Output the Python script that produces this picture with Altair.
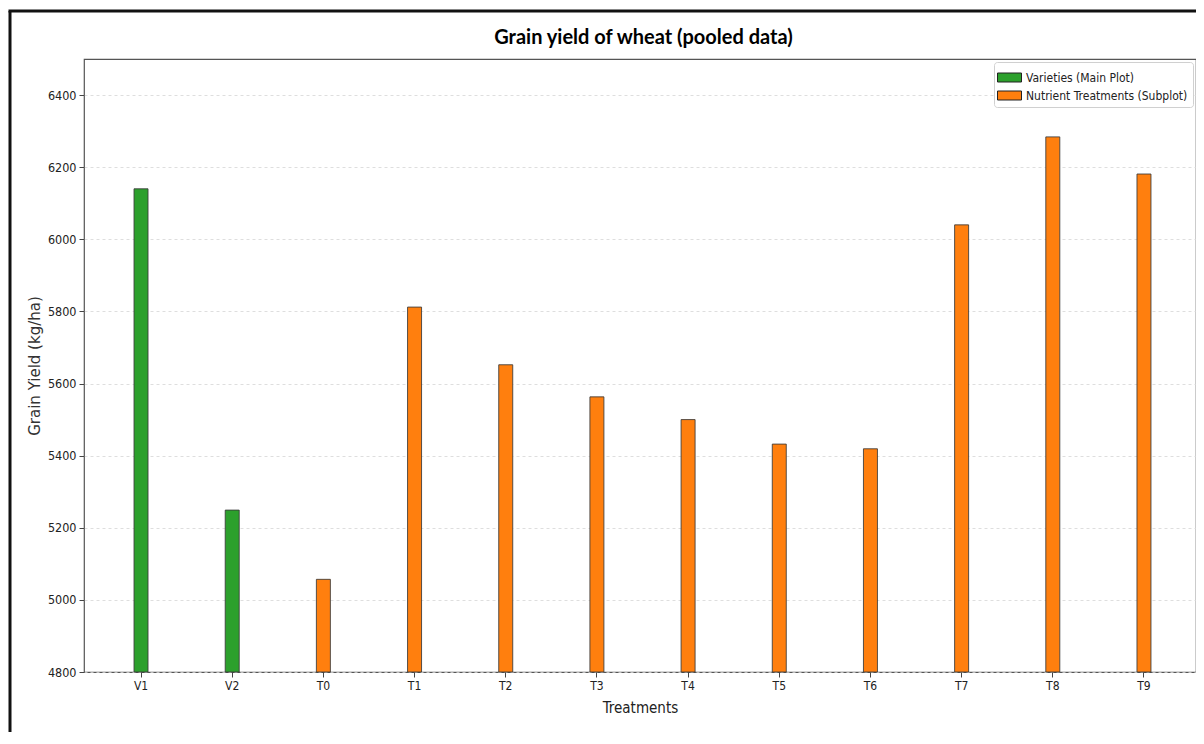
import altair as alt
import pandas as pd

categories = ["V1", "V2", "T0", "T1", "T2", "T3", "T4", "T5", "T6", "T7", "T8", "T9"]
yields = [6140, 5249, 5057, 5812, 5652, 5563, 5500, 5432, 5419, 6040, 6284, 6181]
groups = ["Varieties (Main Plot)"] * 2 + ["Nutrient Treatments (Subplot)"] * 10
group_names = ["Varieties (Main Plot)", "Nutrient Treatments (Subplot)"]
group_colors = ["#2ca02c", "#ff7f0e"]
y_ticks = [4800, 5000, 5200, 5400, 5600, 5800, 6000, 6200, 6400]
title_text = "Grain yield of wheat (pooled data)"

df = pd.DataFrame({"Treatment": categories, "Yield": yields, "Group": groups})

COND = "DejaVu Sans Condensed, Liberation Sans Narrow, DejaVu Sans"

bars = alt.Chart(df).mark_bar(
    size=14, stroke="#3a3a3a", strokeWidth=1, strokeOpacity=0.85
).encode(
    x=alt.X("Treatment:N", sort=categories, title="Treatments",
            scale=alt.Scale(paddingInner=0, paddingOuter=0.098, align=0.64),
            axis=alt.Axis(labelAngle=0, grid=False, labelFont=COND, labelFontSize=12,
                          labelColor="#222", tickSize=5, tickColor="#444",
                          domain=False, labelPadding=3,
                          titleFont=COND, titleFontSize=15, titleFontWeight="normal",
                          titleColor="#222", titlePadding=9)),
    y=alt.Y("Yield:Q", title="Grain Yield (kg/ha)",
            scale=alt.Scale(domain=[4800, 6500], nice=False, zero=False),
            axis=alt.Axis(values=y_ticks, format="d", grid=True, gridDash=[3, 3],
                          gridColor="#d6d6d6", gridWidth=0.8, labelFont=COND,
                          labelFontSize=12.5, labelColor="#222", tickSize=5,
                          tickColor="#444", domain=False, labelPadding=3,
                          titleFont="DejaVu Sans", titleFontSize=15,
                          titleFontWeight="normal", titleColor="#333", titlePadding=5)),
    y2=alt.datum(4800),
    color=alt.Color("Group:N", scale=alt.Scale(domain=group_names, range=group_colors),
                    legend=alt.Legend(title=None, orient="top-right", offset=3,
                                      symbolType="M-1.2,-0.45H1.2V0.45H-1.2Z",
                                      symbolSize=400, symbolStrokeColor="#222",
                                      symbolStrokeWidth=1, symbolOpacity=1,
                                      labelFont=COND, labelFontSize=12, labelColor="#222",
                                      labelLimit=400, labelOffset=6, rowPadding=1,
                                      padding=5, strokeColor="#d0d0d0", fillColor="white",
                                      cornerRadius=3)),
)

frame_data = alt.Data(values=[{"t": title_text}])
frame_left = alt.Chart(frame_data).mark_rule(color="#111", strokeWidth=3).encode(
    x=alt.value(-74), y=alt.value(-48), y2=alt.value(740))
frame_top = alt.Chart(frame_data).mark_rule(color="#111", strokeWidth=3).encode(
    x=alt.value(-75.5), x2=alt.value(1200), y=alt.value(-48))
title = alt.Chart(frame_data).mark_text(
    font="Lato", fontSize=20, fontWeight="bold", color="#000",
    align="center", baseline="middle"
).encode(text="t:N", x=alt.value(559.5), y=alt.value(-21))

chart = alt.layer(frame_left, frame_top, title, bars).properties(
    width=1112, height=613,
    autosize=alt.AutoSizeParams(type="none"),
    padding={"left": 76, "top": 51, "right": 0, "bottom": 60},
).configure(background="white").configure_view(stroke="#555", strokeWidth=1.2)

chart.save("out.html", embed_options={"renderer": "svg", "actions": False})
